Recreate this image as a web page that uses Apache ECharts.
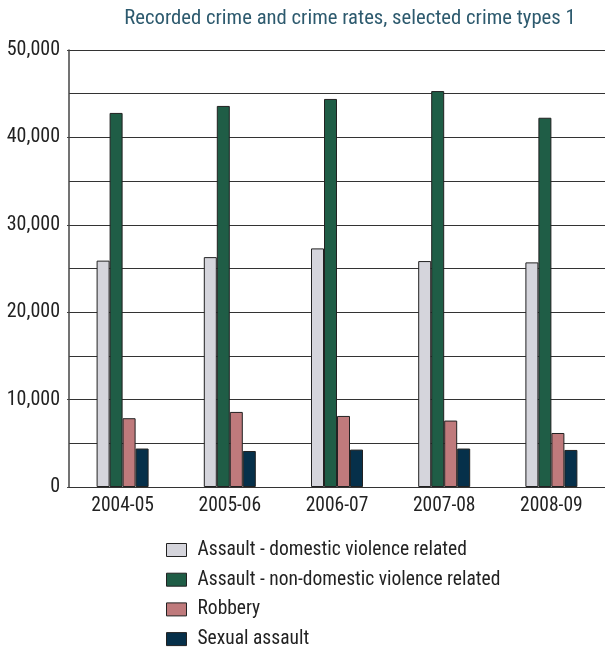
<!DOCTYPE html>
<html>
<head>
<meta charset="utf-8">
<script src="https://cdn.jsdelivr.net/npm/echarts@6/dist/echarts.min.js"></script>
<style>html,body{margin:0;padding:0;background:#fff}#c{width:605px;height:648px}</style>
</head>
<body>
<div id="c"></div>
<script>
var categories = ['2004-05', '2005-06', '2006-07', '2007-08', '2008-09'];
var domestic = [25900, 26300, 27300, 25850, 25700];
var nonDomestic = [42800, 43600, 44400, 45300, 42250];
var robbery = [7870, 8590, 8130, 7600, 6180];
var sexual = [4400, 4120, 4280, 4400, 4240];
var seriesNames = ['Assault - domestic violence related', 'Assault - non-domestic violence related', 'Robbery', 'Sexual assault'];
var colors = ['#d5d5dc', '#1f5d46', '#bf7a7c', '#06304a'];
var yTicks = [0, 10000, 20000, 30000, 40000, 50000];

var FONT = '"Roboto Condensed", "Roboto", sans-serif';
var chart = echarts.init(document.getElementById('c'), null, {renderer: 'canvas'});
var dataSets = [domestic, nonDomestic, robbery, sexual];
var series = dataSets.map(function (d, i) {
  return {
    name: seriesNames[i],
    type: 'bar',
    data: d,
    barWidth: 13,
    barGap: '0%',
    itemStyle: {color: colors[i], borderColor: '#222', borderWidth: 1},
    emphasis: {disabled: true}
  };
});
chart.setOption({
  animation: false,
  title: {
    text: 'Recorded crime and crime rates, selected crime types 1',
    left: 350, top: 8, textAlign: 'center', padding: 0,
    textStyle: {fontFamily: FONT, fontSize: 20.7, fontWeight: 'normal', color: '#2d5a6e'}
  },
  grid: {left: 69, top: 50, width: 540, bottom: 161},
  legend: {
    orient: 'vertical', left: 166, top: 540, padding: 0, height: 120,
    itemWidth: 20, itemHeight: 13, itemGap: 9.7,
    icon: 'rect',
    itemStyle: {borderColor: '#222', borderWidth: 1},
    textStyle: {fontFamily: FONT, fontSize: 19.5, color: '#222', lineHeight: 19, padding: [0, 0, 0, 6]},
    data: seriesNames
  },
  xAxis: {
    type: 'category', data: categories,
    axisLine: {lineStyle: {color: '#333', width: 1}},
    axisTick: {show: false},
    axisLabel: {fontFamily: FONT, fontSize: 19.5, color: '#222', margin: 9}
  },
  yAxis: {
    type: 'value', min: 0, max: 50000, interval: 10000,
    axisLine: {show: true, lineStyle: {color: '#444', width: 1.5}},
    axisTick: {show: true, length: 2, lineStyle: {color: '#444', width: 1.2}},
    splitLine: {lineStyle: {color: '#333', width: 1.2}},
    minorTick: {show: false, splitNumber: 2},
    minorSplitLine: {show: true, lineStyle: {color: '#333', width: 1.2}},
    axisLabel: {
      fontFamily: FONT, fontSize: 20, color: '#222', margin: 9,
      formatter: function (v) {
        return yTicks.indexOf(v) >= 0 ? v.toLocaleString('en-US') : '';
      }
    }
  },
  series: series
});
</script>
</body>
</html>
